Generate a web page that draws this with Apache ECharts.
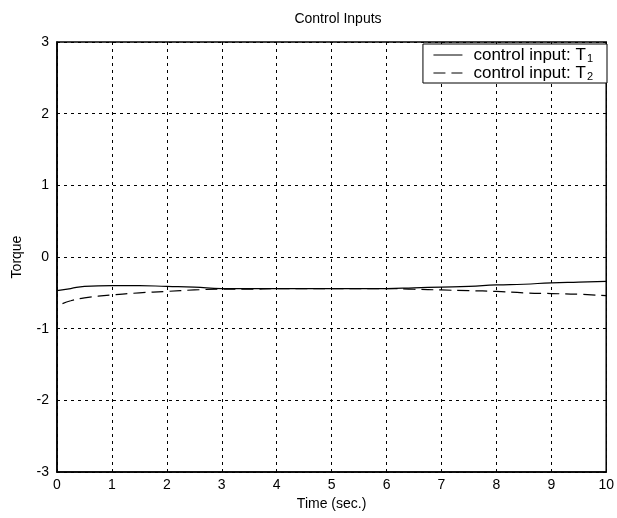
<!DOCTYPE html>
<html><head><meta charset="utf-8">
<script src="https://cdn.jsdelivr.net/npm/echarts@6/dist/echarts.min.js"></script>
<style>html,body{margin:0;padding:0;background:#fff}#c{width:617px;height:518px}</style>
</head><body><div id="c"></div>
<script>
const title = 'Control Inputs';
const xName = 'Time (sec.)';
const yName = 'Torque';
const seriesNames = ['control input: T1', 'control input: T2'];
const t1Time = [0, 0.25, 0.5, 1, 1.5, 2, 2.5, 3, 3.5, 4, 5, 6, 6.5, 7, 7.5, 8, 8.5, 9, 9.5, 10];
const t1Vals = [-0.47, -0.44, -0.41, -0.40, -0.40, -0.41, -0.42, -0.44, -0.44, -0.44, -0.44, -0.44, -0.43, -0.42, -0.41, -0.39, -0.38, -0.36, -0.35, -0.34];
const t2Time = [0.1, 0.25, 0.5, 1, 1.5, 2, 2.5, 3, 3.5, 4, 5, 6, 6.5, 7, 7.5, 8, 8.5, 9, 9.5, 10];
const t2Vals = [-0.65, -0.61, -0.57, -0.53, -0.50, -0.48, -0.46, -0.45, -0.45, -0.44, -0.44, -0.44, -0.45, -0.46, -0.47, -0.48, -0.50, -0.51, -0.52, -0.54];

const chart = echarts.init(document.getElementById('c'), null, {renderer: 'canvas'});
const font = 'Liberation Sans, Arial, sans-serif';
chart.setOption({
  animation: false,
  backgroundColor: '#fff',
  title: {text: title, left: 333, textAlign: 'center', top: 7,
    textStyle: {fontFamily: font, fontSize: 14, fontWeight: 'normal', color: '#000'}},
  grid: {left: 57, right: 7, top: 42, bottom: 46, show: true, borderColor: '#000', borderWidth: 1.5},
  legend: {
    orient: 'vertical', right: 10, top: 44,
    backgroundColor: '#fff', borderColor: '#000', borderWidth: 1,
    padding: [2, 14, 1, 10], itemGap: 0, itemWidth: 29, itemHeight: 12,
    itemStyle: {color: 'transparent', borderWidth: 0, opacity: 0},
    lineStyle: {width: 1},
    formatter: function (n) {
      const i = seriesNames.indexOf(n);
      return '{a|control input: T}{s|' + (i + 1) + '}';
    },
    textStyle: {fontFamily: font, fontSize: 17, color: '#000', padding: [0, 0, 0, 6],
      rich: {a: {fontFamily: font, fontSize: 17, color: '#000', lineHeight: 17},
             s: {fontFamily: font, fontSize: 11, color: '#000', lineHeight: 17, padding: [7, 0, 0, 1]}}},
    data: seriesNames
  },
  xAxis: {
    type: 'value', min: 0, max: 10, interval: 1,
    name: xName, nameLocation: 'middle', nameGap: 24,
    nameTextStyle: {fontFamily: font, fontSize: 14, color: '#000'},
    axisLine: {show: true, onZero: false, lineStyle: {color: '#000', width: 1.5}},
    axisTick: {show: false},
    axisLabel: {fontFamily: font, fontSize: 14, color: '#000', margin: 6},
    splitLine: {show: true, lineStyle: {color: '#000', type: [3, 4], width: 1}}
  },
  yAxis: {
    type: 'value', min: -3, max: 3, interval: 1,
    name: yName, nameLocation: 'middle', nameGap: 33,
    nameTextStyle: {fontFamily: font, fontSize: 14, color: '#000'},
    axisLine: {show: true, onZero: false, lineStyle: {color: '#000', width: 1.5}},
    axisTick: {show: false},
    axisLabel: {fontFamily: font, fontSize: 14, color: '#000', margin: 8},
    splitLine: {show: true, lineStyle: {color: '#000', type: [3, 4], width: 1}}
  },
  series: [
    {name: seriesNames[0], type: 'line', symbol: 'none', smooth: true,
     data: t1Time.map((x, i) => [x, t1Vals[i]]),
     lineStyle: {color: '#000', width: 1.2, type: 'solid'}, itemStyle: {color: '#000'}},
    {name: seriesNames[1], type: 'line', symbol: 'none', smooth: true,
     data: t2Time.map((x, i) => [x, t2Vals[i]]),
     lineStyle: {color: '#000', width: 1.2, type: [12, 6]}, itemStyle: {color: '#000'}}
  ]
});
</script></body></html>
